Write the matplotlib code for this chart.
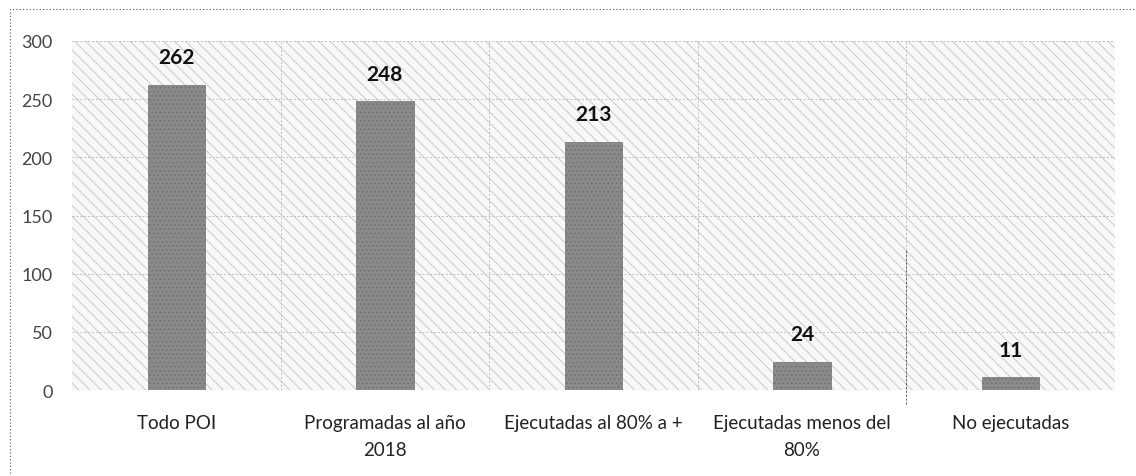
import matplotlib.pyplot as plt
import matplotlib.patches as mpatches
import numpy as np

# datos del grafico
categorias = ["Todo POI", "Programadas al año\n2018", "Ejecutadas al 80% a +",
              "Ejecutadas menos del\n80%", "No ejecutadas"]
valores = [262, 248, 213, 24, 11]
ticks_y = [0, 50, 100, 150, 200, 250, 300]

plt.rcParams['font.family'] = ['Lato', 'DejaVu Sans']
plt.rcParams['hatch.linewidth'] = 0.6
plt.rcParams['hatch.color'] = '#c2c2c2'

fig = plt.figure(figsize=(11.36, 4.77), dpi=100)
ax = fig.add_axes([0.0634, 0.180, 0.918, 0.732])

# fondo rayado (como escaneado)
ax.set_facecolor('#f8f8f8')
fondo = mpatches.Rectangle((0, 0), 1, 1, transform=ax.transAxes, facecolor='none',
                           edgecolor='#c2c2c2', hatch='\\\\\\', linewidth=0, zorder=0)
ax.add_patch(fondo)

x = np.arange(len(categorias))
barras = ax.bar(x, valores, width=0.275, color='#8a8a8a', edgecolor='#707070',
                linewidth=0.5, zorder=3)
for b in barras:
    b.set_hatch('....')

for xi, v in zip(x, valores):
    ax.annotate(str(v), (xi, v), xytext=(0, 20), textcoords='offset points',
                ha='center', va='center', fontsize=15, fontweight='bold', color='#111111')

ax.set_xlim(-0.5, len(categorias) - 0.5)
ax.set_ylim(0, 300)
ax.set_yticks(ticks_y)
ax.set_xticks(x)
ax.set_xticklabels(categorias, fontsize=13.5, color='#222222', linespacing=1.75)
ax.tick_params(axis='x', length=0, pad=17)
ax.tick_params(axis='y', length=0, pad=14, labelsize=13, labelcolor='#444444')

# rejilla horizontal y separadores de categoria
ax.yaxis.grid(True, color='#bdbdbd', linestyle=(0, (2, 2)), linewidth=0.7, zorder=1)
for sep in np.arange(0.5, len(categorias) - 1, 1.0):
    ax.axvline(sep, color='#bdbdbd', linestyle=(0, (2, 2)), linewidth=0.7, zorder=1)
ax.axvline(3.5, ymin=-0.04, ymax=0.4, color='#555555', linestyle=(0, (2, 2)),
           linewidth=0.7, zorder=1, clip_on=False)

for s in ax.spines.values():
    s.set_visible(False)
ax.axhline(0, color='#999999', linewidth=0.8, linestyle=(0, (1, 1)), zorder=2)

# borde punteado exterior
borde = mpatches.Rectangle((0.009, -0.05), 1.1, 1.028, transform=fig.transFigure,
                           fill=False, edgecolor='#555555', linestyle=(0, (1, 2)),
                           linewidth=0.8)
fig.patches.append(borde)

fig.savefig("out.png", dpi=100)
